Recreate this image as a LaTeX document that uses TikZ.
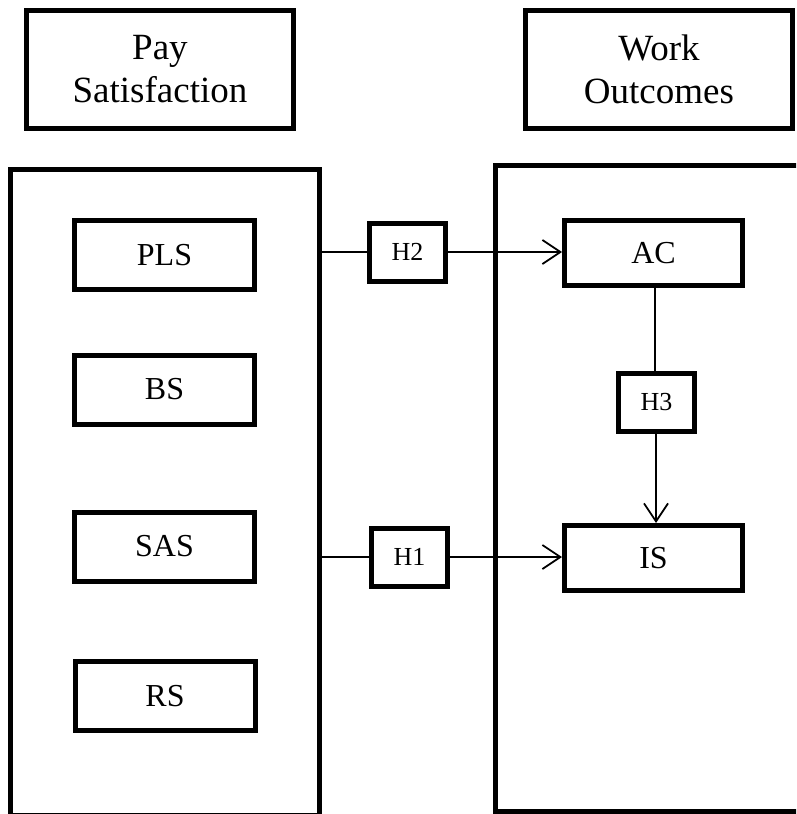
\documentclass[tikz,border=0pt]{standalone}
\usepackage{fontspec}
\setmainfont{Liberation Serif}
\usetikzlibrary{arrows.meta}
\tikzset{
  frame/.style={draw=black, line width=5pt, inner sep=0pt, align=center},
  titlebox/.style={frame, minimum width=267pt, minimum height=118pt, font=\fontsize{37}{43}\selectfont},
  varbox/.style={frame, minimum width=180pt, minimum height=69pt, font=\fontsize{32}{36}\selectfont},
  hbox/.style={frame, minimum width=76pt, minimum height=58pt, font=\fontsize{26}{28}\selectfont},
  link/.style={draw=black, line width=1.8pt},
  arrowlink/.style={link, -{Straight Barb[length=18pt, width=24pt, line width=1.8pt]}}
}
\begin{document}
\begin{tikzpicture}[x=1pt, y=-1pt]
\useasboundingbox (0,0) rectangle (796,814);
\clip (0,0) rectangle (796,814);
% title boxes
\node[titlebox] (pay) at (160,69.5) {Pay\\Satisfaction};
\node[titlebox] (work) at (659,69.5) {Work\\Outcomes};
% group frames
\node[frame, minimum width=309pt, minimum height=646pt] (leftbox) at (165,492.5) {};
\node[frame, minimum width=320pt, minimum height=645.5pt] (rightbox) at (655.5,488.25) {};
% variables
\node[varbox] (PLS) at (164.5,255) {PLS};
\node[varbox] (BS) at (164.5,389.5) {BS};
\node[varbox] (SAS) at (164.5,546.5) {SAS};
\node[varbox] (RS) at (165,696) {RS};
\node[varbox, minimum width=178pt, minimum height=65pt] (AC) at (653.5,253) {AC};
\node[varbox, minimum width=178pt, minimum height=65pt] (IS) at (653.5,558) {IS};
% hypotheses
\node[hbox] (H2) at (407.5,252) {H2};
\node[hbox] (H1) at (409.5,557) {H1};
\node[hbox] (H3) at (656.5,402) {H3};
% connectors
\draw[link] (leftbox.east |- H2) -- (H2.west);
\draw[arrowlink] (H2.east) -- (AC.west |- H2);
\draw[link] (leftbox.east |- H1) -- (H1.west);
\draw[arrowlink] (H1.east) -- (IS.west |- H1);
\draw[link] (H3.north -| 655,0) -- (AC.south -| 655,0);
\draw[arrowlink] (H3.south -| 656,0) -- (IS.north -| 656,0);
\end{tikzpicture}
\end{document}
